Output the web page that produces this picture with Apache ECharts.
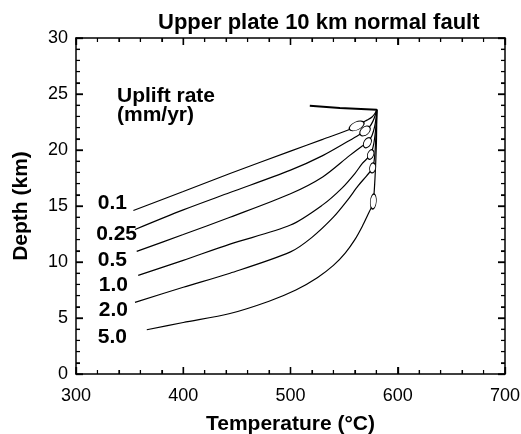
<!DOCTYPE html>
<html>
<head>
<meta charset="utf-8">
<script src="https://cdn.jsdelivr.net/npm/echarts@6/dist/echarts.min.js"></script>
<style>
html,body{margin:0;padding:0;background:#fff;}
#chart{width:521px;height:434px;}
</style>
</head>
<body>
<div id="chart"></div>
<script>
// ---- Data (Temperature °C, Depth km) ----
var upliftRates = ['0.1', '0.25', '0.5', '1.0', '2.0', '5.0'];
var xTicks = [300, 400, 500, 600, 700];
var yTicks = [0, 5, 10, 15, 20, 25, 30];
var xMinorTicks = [320, 340, 360, 380, 420, 440, 460, 480, 520, 540, 560, 580, 620, 640, 660, 680];
var yMinorTicks = [1, 2, 3, 4, 6, 7, 8, 9, 11, 12, 13, 14, 16, 17, 18, 19, 21, 22, 23, 24, 26, 27, 28, 29];

var path01 = [[353.5,14.6],[400,16.3],[443.6,17.9],[500,19.9],[530,20.95],[557,21.9],[561.7,22.15],[567,22.45],[572,22.7],[576,22.95],[579,23.3],[580.5,23.65]];
var path025 = [[355,12.9],[400,14.65],[443.6,16.2],[500,18.2],[530,19.5],[555,20.85],[565,21.4],[569.5,21.7],[574,22.1],[577,22.6],[579,23.1],[580.5,23.6]];
var path05 = [[356.6,10.95],[400,12.45],[443.6,14.0],[500,16.1],[530,17.6],[555,19.5],[566,20.3],[571.7,20.65],[576,21.3],[578.5,22.1],[579.8,22.9],[580.5,23.6]];
var path10 = [[358,8.8],[400,10.15],[443.6,11.6],[500,13.3],[530,15.1],[548,16.6],[560,17.9],[567,18.8],[574.7,19.6],[577.5,20.5],[579,21.5],[580,22.5],[580.5,23.6]];
var path20 = [[355,6.4],[400,7.75],[443.6,9.0],[500,10.9],[520,12.2],[540,14.0],[553,15.5],[563,16.8],[571,17.7],[576.6,18.4],[578.5,19.5],[579.5,21],[580.2,22.5],[580.5,23.6]];
var path50 = [[366,3.95],[400,4.6],[443.6,5.4],[480,6.5],[505,7.5],[525,8.6],[540,9.7],[551,10.8],[560,12.0],[567,13.2],[572,14.2],[575.5,14.9],[577.2,15.4],[578.5,17],[579.5,19],[580.2,21],[580.5,23.6]];
var topPath = [[518,23.95],[546,23.75],[580.5,23.6]];

// ellipse centres at the end of each path (Temperature, Depth)
var ellipseCentres = [[561.7,22.15],[569.5,21.7],[571.7,20.65],[574.7,19.6],[576.6,18.4],[577.2,15.4]];

var paths = [path01, path025, path05, path10, path20, path50];

// ---- presentation ----
var FONT = '"Liberation Sans", Arial, Helvetica, sans-serif';
var ellipseShapes = [[16,8,25],[12,8,40],[11,7,60],[10,6,70],[10,6,80],[15,6,85]];
var labelPos = [[127,203],[137,234],[127,260],[128,285],[128,310],[127,337]];
var MAJOR_LEN = 7, MINOR_LEN = 4;

var chart = echarts.init(document.getElementById('chart'), null, {renderer: 'canvas'});

function axisBase(isX, pos, showLabel) {
  return {
    type: 'value',
    position: pos,
    min: isX ? 300 : 0,
    max: isX ? 700 : 30,
    interval: isX ? 100 : 5,
    axisLine: {show: true, onZero: false, lineStyle: {color: '#000', width: 1.5}},
    axisTick: {show: true, inside: true, length: MAJOR_LEN, lineStyle: {color: '#000', width: 1.3}},
    minorTick: {show: true, splitNumber: 5, length: MINOR_LEN, lineStyle: {color: '#000', width: 1.1}},
    splitLine: {show: false},
    minorSplitLine: {show: false},
    axisLabel: {show: showLabel, color: '#000', fontSize: 18, fontFamily: FONT, margin: isX ? 13 : 8}
  };
}

var xBottom = axisBase(true, 'bottom', true);
xBottom.name = 'Temperature (°C)';
xBottom.nameLocation = 'middle';
xBottom.nameGap = 40;
xBottom.nameTextStyle = {fontSize: 21, fontWeight: 'bold', color: '#000', fontFamily: FONT};
var xTop = axisBase(true, 'top', false);

var yLeft = axisBase(false, 'left', true);
yLeft.name = 'Depth (km)';
yLeft.nameLocation = 'middle';
yLeft.nameGap = 44;
yLeft.nameTextStyle = {fontSize: 21, fontWeight: 'bold', color: '#000', fontFamily: FONT};
var yRight = axisBase(false, 'right', false);

var series = [];
paths.forEach(function (p, i) {
  series.push({
    name: upliftRates[i] + ' mm/yr',
    type: 'line',
    data: p,
    smooth: 0.3,
    showSymbol: false,
    lineStyle: {color: '#000', width: 1.2},
    z: 2,
    silent: true
  });
});
series.push({
  name: 'initial', type: 'line', data: topPath, showSymbol: false,
  lineStyle: {color: '#000', width: 2}, z: 2, silent: true
});
series.push({
  name: 'ellipses', type: 'scatter', z: 5,
  data: ellipseCentres.map(function (c, i) {
    return {value: c, symbolSize: [ellipseShapes[i][0], ellipseShapes[i][1]], symbolRotate: ellipseShapes[i][2]};
  }),
  symbol: 'circle',
  itemStyle: {color: '#fff', borderColor: '#000', borderWidth: 1, opacity: 1},
  silent: true
});

var graphics = [
  {type: 'text', left: 158, top: 12, style: {text: 'Upper plate 10 km normal fault', fontSize: 22, fontWeight: 'bold', fontFamily: FONT, fill: '#000'}},
  {type: 'text', x: 117, y: 96, style: {text: 'Uplift rate', fontSize: 21, fontWeight: 'bold', fontFamily: FONT, fill: '#000', verticalAlign: 'middle'}},
  {type: 'text', x: 117, y: 115, style: {text: '(mm/yr)', fontSize: 21, fontWeight: 'bold', fontFamily: FONT, fill: '#000', verticalAlign: 'middle'}}
];
upliftRates.forEach(function (r, i) {
  graphics.push({type: 'text', x: labelPos[i][0], y: labelPos[i][1],
    style: {text: r, fontSize: 21, fontWeight: 'bold', fontFamily: FONT, fill: '#000', align: 'right', verticalAlign: 'middle'}});
});

chart.setOption({
  animation: false,
  backgroundColor: '#fff',
  grid: {left: 76, right: 16, top: 38, bottom: 60, containLabel: false, outerBoundsMode: 'none'},
  xAxis: [xBottom, xTop],
  yAxis: [yLeft, yRight],
  series: series,
  graphic: graphics
});

// inward tick marks on all four sides, positioned through the chart's own scales
try {
  var finder = {xAxisIndex: 0, yAxisIndex: 0};
  var bl = chart.convertToPixel(finder, [300, 0]);
  var tr = chart.convertToPixel(finder, [700, 30]);
  var tickGraphics = graphics.slice();
  function tickLine(x1, y1, x2, y2, w) {
    tickGraphics.push({type: 'line', silent: true, z: 100,
      shape: {x1: x1, y1: y1, x2: x2, y2: y2}, style: {stroke: '#000', lineWidth: w}});
  }
  function addX(v, len, w) {
    var px = chart.convertToPixel(finder, [v, 0])[0];
    tickLine(px, bl[1], px, bl[1] - len, w);
    tickLine(px, tr[1], px, tr[1] + len, w);
  }
  function addY(v, len, w) {
    var py = chart.convertToPixel(finder, [300, v])[1];
    tickLine(bl[0], py, bl[0] + len, py, w);
    tickLine(tr[0], py, tr[0] - len, py, w);
  }
  xTicks.forEach(function (v) { addX(v, MAJOR_LEN, 1.3); });
  xMinorTicks.forEach(function (v) { addX(v, MINOR_LEN, 1.1); });
  yTicks.forEach(function (v) { addY(v, MAJOR_LEN, 1.3); });
  yMinorTicks.forEach(function (v) { addY(v, MINOR_LEN, 1.1); });
  chart.setOption({graphic: tickGraphics}, {replaceMerge: ['graphic']});
} catch (e) { console.error(e); }
</script>
</body>
</html>
